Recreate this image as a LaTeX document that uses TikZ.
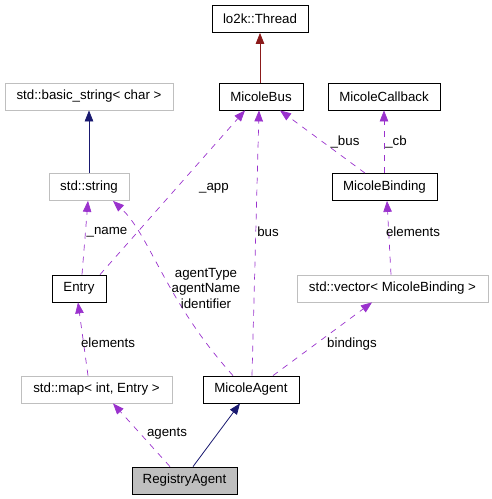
\documentclass[tikz,border=0pt]{standalone}
\usepackage{fontspec}
\setmainfont{Liberation Sans}
\usetikzlibrary{arrows.meta}
\definecolor{dep}{HTML}{9A32CD}
\definecolor{navy}{HTML}{191970}
\definecolor{firebrick}{HTML}{8B1A1A}
\definecolor{ext}{HTML}{BFBFBF}
\tikzset{
	cls/.style={draw, minimum height=27pt, inner sep=0pt, line width=0.8pt},
	extcls/.style={cls, draw=ext},
	tip/.style={-{Triangle[length=11pt,width=8.5pt]}},
	usage/.style={tip, dep, line width=0.7pt, dash pattern=on 6pt off 6pt},
	lbl/.style={inner sep=0pt, align=center}
}
\begin{document}
\begin{tikzpicture}[x=1pt, y=-1pt, font=\fontsize{13.3}{15.5}\selectfont]
			\useasboundingbox (0,0) rectangle (492,499);
			\node[cls, minimum width=96pt]     (v0)  at (260,  19)    {lo2k::Thread};
			\node[cls, minimum width=84pt]     (v1)  at (261,  96.5)  {MicoleBus};
			\node[cls, minimum width=112pt]    (v2)  at (384,  96.5)  {MicoleCallback};
			\node[extcls, minimum width=168pt] (v3)  at (89,   96.5)  {std::basic\_string< char >};
			\node[extcls, minimum width=80pt]  (v4)  at (89,   187)   {std::string};
			\node[cls, minimum width=105pt]    (v5)  at (384.5,187)   {MicoleBinding};
			\node[cls, minimum width=54pt]     (v6)  at (79,   288.5) {Entry};
			\node[extcls, minimum width=191pt] (v7)  at (392.5,288.5) {std::vector< MicoleBinding >};
			\node[extcls, minimum width=151pt] (v8)  at (96.5, 389.5) {std::map< int, Entry >};
			\node[cls, minimum width=96pt]     (v9)  at (251,  389.5) {MicoleAgent};
			\node[cls, fill=ext, minimum width=105pt] (v10) at (184.5,480.5) {RegistryAgent};
			
			% inheritance
			\draw[tip, firebrick, line width=0.8pt] ([xshift=-1pt]v1.north) -- (v0.south);
			\draw[tip, navy, line width=0.8pt] (v4.north) -- (v3.south);
			\draw[tip, navy, line width=0.8pt] ([xshift=8.5pt]v10.north) -- ([xshift=-11pt]v9.south);
			
			\def\list {v6/3/v4/-1, v8/-8.5/v6/-1, v10/-14.5/v8/16.5, v9/1/v1/-2, v9/22/v7/-20.5,
			v7/-1.5/v5/2.5, v5/-19.5/v1/19, v5/-0.5/v2/0, v6/21/v1/-16}  % usage edges
			\foreach \u\su\v\sv in \list
			{	\draw[usage] ([xshift=\su pt]\u.north) -- ([xshift=\sv pt]\v.south);
			}
			\draw[usage] ([xshift=-18pt]v9.north) .. controls (165,300) and (150,235) .. ([xshift=24pt]v4.south);
			
			\def\labels {214/188/\_app, 107/232/\_name, 268/232/bus, 345/142/\_bus, 396/142/\_cb,
			413/232/elements, 108/343/elements, 167/434/agents, 352/344/bindings}  % edge labels
			\foreach \x\y\txt [count=\i] in \labels
			{	\node[lbl] (l\i) at (\x,\y) {\txt};
			}
			\node[lbl] (l10) at (206,288) {agentType\\agentName\\identifier};
		\end{tikzpicture}
\end{document}
